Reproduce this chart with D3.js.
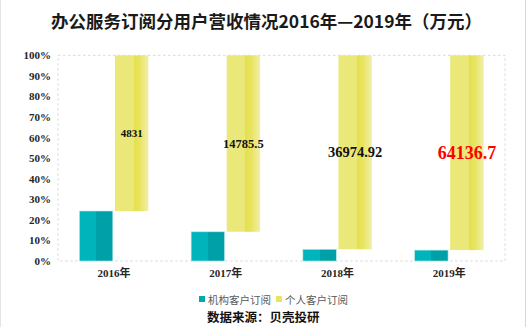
<!DOCTYPE html>
<html>
<head>
<meta charset="utf-8">
<script src="https://cdn.jsdelivr.net/npm/d3@7"></script>
<style>
  html, body { margin: 0; padding: 0; background: #fff; }
  svg { display: block; }
</style>
</head>
<body>
<svg id="chart" width="528" height="327"></svg>
<script>
// Revenue by customer type, 万元
const years = ["2016年", "2017年", "2018年", "2019年"];
const institutional = [1551, 2447, 2235, 3590];
const individual = [4831, 14785.5, 36974.92, 64136.7];
const individualLabels = ["4831", "14785.5", "36974.92", "64136.7"];
const seriesNames = ["机构客户订阅", "个人客户订阅"];
const yTicks = [0, 0.1, 0.2, 0.3, 0.4, 0.5, 0.6, 0.7, 0.8, 0.9, 1];

const svg = d3.select("#chart");
const W = 528, H = 327;
const m = { left: 58, right: 23, top: 55.3, bottom: 66 };
const plotR = W - m.right, plotB = H - m.bottom;

// gradients for the two series
const defs = svg.append("defs");
const tealGrad = defs.append("linearGradient").attr("id", "gTeal");
[[0, "#00b4bc"], [0.5, "#00b4bc"], [0.5, "#00a0a8"], [1, "#00a0a8"]]
  .forEach(([o, c]) => tealGrad.append("stop").attr("offset", o).attr("stop-color", c));
const yellowGrad = defs.append("linearGradient").attr("id", "gYellow");
[[0, "#ebe87a"], [0.56, "#ebe87a"], [0.56, "#e5e04a"], [0.74, "#e8e462"], [1, "#f1efaa"]]
  .forEach(([o, c]) => yellowGrad.append("stop").attr("offset", o).attr("stop-color", c));

// faint frame edges
svg.append("line").attr("x1", 0.5).attr("x2", 0.5).attr("y1", 0).attr("y2", H)
  .attr("stroke", "#e4e4e4");
svg.append("line").attr("x1", 525.5).attr("x2", 525.5).attr("y1", 0).attr("y2", H)
  .attr("stroke", "#d6d6d6");

// title
svg.append("text")
  .attr("x", 266.5).attr("y", 28)
  .attr("text-anchor", "middle")
  .style("font-family", "'Noto Sans CJK SC', sans-serif")
  .style("font-weight", "bold").style("font-size", "17.5px")
  .attr("fill", "#1a1a1a")
  .text("办公服务订阅分用户营收情况2016年—2019年（万元）");

const x = d3.scaleBand().domain(years).range([m.left, plotR]).padding(0);
const bw = x.bandwidth();
const xs = d3.scaleBand().domain(seriesNames)
  .range([bw / 2 - 34.5, bw / 2 + 34.5]).paddingInner(0.06);
const y = d3.scaleLinear().domain([0, 1]).range([plotB, m.top]);

// dashed plot border
svg.append("rect")
  .attr("x", m.left).attr("y", m.top)
  .attr("width", plotR - m.left).attr("height", plotB - m.top)
  .attr("fill", "none").attr("stroke", "#d9d9d9")
  .attr("stroke-dasharray", "2.5,2.5").attr("stroke-width", 1);

// y axis
const yAxis = svg.append("g")
  .attr("transform", `translate(${m.left},0)`)
  .call(d3.axisLeft(y).tickValues(yTicks).tickFormat(d3.format(".0%")).tickSize(0).tickPadding(7));
yAxis.select(".domain").remove();
yAxis.selectAll("text")
  .style("font-family", "'Liberation Serif', 'Times New Roman', serif")
  .style("font-weight", "bold").style("font-size", "11px")
  .attr("fill", "#262626");

// x axis
const xAxis = svg.append("g")
  .attr("transform", `translate(0,${plotB})`)
  .call(d3.axisBottom(x).tickSize(0).tickPadding(8));
xAxis.select(".domain").remove();
xAxis.selectAll("text")
  .style("font-family", "'Liberation Serif', 'Noto Sans CJK SC', serif")
  .style("font-weight", "bold").style("font-size", "11px")
  .attr("fill", "#262626");

const rows = years.map((yr, i) => {
  const total = institutional[i] + individual[i];
  return { yr, i, share: institutional[i] / total };
});

// institutional share, from the baseline
svg.append("g").selectAll("rect").data(rows).join("rect")
  .attr("x", d => x(d.yr) + xs(seriesNames[0]))
  .attr("width", xs.bandwidth())
  .attr("y", d => y(d.share))
  .attr("height", d => y(0) - y(d.share))
  .attr("fill", "url(#gTeal)")
  .attr("stroke", "#bfe9ec").attr("stroke-width", 0.6);

// individual share, stacked above the institutional top
svg.append("g").selectAll("rect").data(rows).join("rect")
  .attr("x", d => x(d.yr) + xs(seriesNames[1]))
  .attr("width", xs.bandwidth())
  .attr("y", y(1))
  .attr("height", d => y(d.share) - y(1))
  .attr("fill", "url(#gYellow)");

// value labels for individual revenue
const labelSizes = [11, 12.5, 14.5, 18];
const labelColors = ["#111", "#111", "#111", "#ff0000"];
svg.append("g").selectAll("text").data(rows).join("text")
  .attr("x", d => x(d.yr) + xs(seriesNames[1]) + xs.bandwidth() / 2)
  .attr("y", d => (y(d.share) + y(1)) / 2)
  .attr("text-anchor", "middle")
  .attr("dominant-baseline", "central")
  .style("font-family", "'Liberation Serif', 'Times New Roman', serif")
  .style("font-weight", "bold")
  .style("font-size", d => labelSizes[d.i] + "px")
  .attr("fill", d => labelColors[d.i])
  .text(d => individualLabels[d.i]);

// legend
const legend = svg.append("g").attr("transform", "translate(199,299)");
const legendX = [0, 77];
const legendFill = ["#00a8b0", "#e8e462"];
seriesNames.forEach((name, i) => {
  const g = legend.append("g").attr("transform", `translate(${legendX[i]},0)`);
  g.append("rect").attr("x", 0).attr("y", -3).attr("width", 6).attr("height", 6)
    .attr("fill", legendFill[i]);
  g.append("text").attr("x", 9).attr("y", 0)
    .attr("dominant-baseline", "central")
    .style("font-family", "'Noto Sans CJK SC', sans-serif")
    .style("font-size", "10.5px")
    .attr("fill", "#595959")
    .text(name);
});

// source note
svg.append("text")
  .attr("x", 207).attr("y", 316)
  .attr("dominant-baseline", "central")
  .style("font-family", "'Noto Sans CJK SC', sans-serif")
  .style("font-weight", "bold").style("font-size", "12.5px")
  .attr("fill", "#111")
  .text("数据来源：贝壳投研");
</script>
</body>
</html>
